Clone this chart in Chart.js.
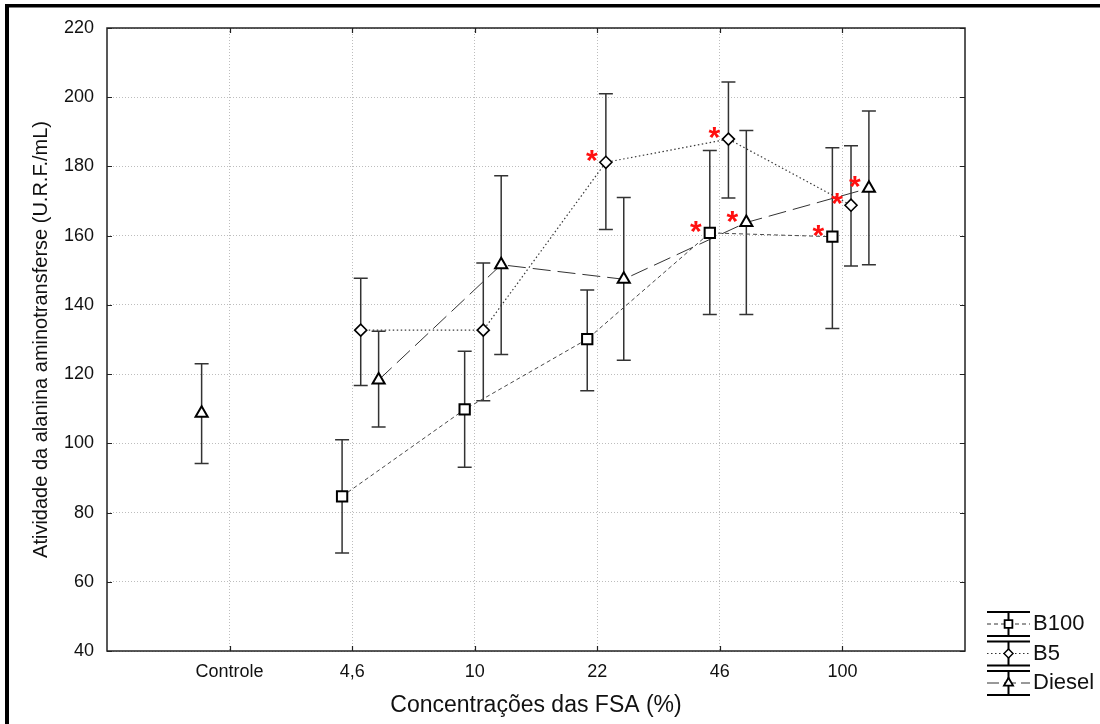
<!DOCTYPE html>
<html>
<head>
<meta charset="utf-8">
<script src="https://cdn.jsdelivr.net/npm/chart.js@4.4.1/dist/chart.umd.min.js"></script>
<style>
  html, body { margin: 0; padding: 0; background: #fff; }
  #wrap { width: 1100px; height: 724px; }
</style>
</head>
<body>
<div id="wrap"><canvas id="chart" width="1100" height="724"></canvas></div>
<script>
// categories on the x axis (Controle is its own group)
const categories = ['Controle', '4,6', '10', '22', '46', '100'];

// control group (one point only)
const controleMean = [108.7];
const controleLow = [94.2];
const controleHigh = [123.0];

// series values for 4,6 / 10 / 22 / 46 / 100
const b100Mean = [84.7, 109.8, 130.1, 160.8, 159.7];
const b100Low = [68.3, 93.1, 115.2, 137.2, 133.2];
const b100High = [101.0, 126.6, 144.3, 184.6, 185.4];

const b5Mean = [132.7, 132.7, 181.2, 187.9, 168.8];
const b5Low = [116.7, 112.3, 161.8, 170.9, 151.2];
const b5High = [147.7, 152.1, 201.0, 204.4, 186.0];

const dieselMean = [118.3, 151.6, 147.4, 163.8, 173.7];
const dieselLow = [104.7, 125.7, 124.0, 137.2, 151.6];
const dieselHigh = [132.4, 177.3, 171.0, 190.4, 196.0];

// significance marks: [series, index into the series arrays]
const asterisks = [['B100', 3], ['B100', 4], ['B5', 2], ['B5', 3], ['B5', 4], ['Diesel', 3], ['Diesel', 4]];

const FONT = "'Liberation Sans', Arial, sans-serif";
const TEXT = '#111';

// horizontal shift of each series inside its category
const dodge = { B100: -0.082, B5: 0.07, Diesel: 0.216, Controle: -0.228 };

function points(means, key, start) {
  return means.map((v, i) => ({ x: i + start + dodge[key], y: v }));
}

const datasets = [
  {
    label: 'B100',
    data: points(b100Mean, 'B100', 2),
    errLow: b100Low, errHigh: b100High,
    showLine: true,
    borderColor: '#4a4a4a',
    borderWidth: 1,
    borderDash: [4, 3],
    pointStyle: 'rect',
    pointRadius: 7.3,
    pointBackgroundColor: '#fff',
    pointBorderColor: '#000',
    pointBorderWidth: 2
  },
  {
    label: 'B5',
    data: points(b5Mean, 'B5', 2),
    errLow: b5Low, errHigh: b5High,
    showLine: true,
    borderColor: '#3a3a3a',
    borderWidth: 1.2,
    borderDash: [1.5, 2.5],
    pointStyle: 'rectRot',
    pointRadius: 6,
    pointBackgroundColor: '#fff',
    pointBorderColor: '#000',
    pointBorderWidth: 1.6
  },
  {
    label: 'Diesel',
    data: points(dieselMean, 'Diesel', 2),
    errLow: dieselLow, errHigh: dieselHigh,
    showLine: true,
    borderColor: '#333',
    borderWidth: 1,
    borderDash: [18, 7],
    pointStyle: 'triangle',
    pointRadius: 7,
    pointBackgroundColor: '#fff',
    pointBorderColor: '#000',
    pointBorderWidth: 2
  },
  {
    label: 'Controle',
    data: points(controleMean, 'Controle', 1),
    errLow: controleLow, errHigh: controleHigh,
    showLine: false,
    pointStyle: 'triangle',
    pointRadius: 7,
    pointBackgroundColor: '#fff',
    pointBorderColor: '#000',
    pointBorderWidth: 2
  }
];

// white background and the thick outer frame
const framePlugin = {
  id: 'frame',
  beforeDraw(chart) {
    const ctx = chart.ctx;
    ctx.save();
    ctx.fillStyle = '#fff';
    ctx.fillRect(0, 0, chart.width, chart.height);
    ctx.fillStyle = '#000';
    ctx.fillRect(5, 4, chart.width - 5, 3.5);
    ctx.fillRect(5, 4, 4, chart.height - 4);
    ctx.restore();
  }
};

// vertical error bars with caps
const errorBarPlugin = {
  id: 'errorBars',
  beforeDatasetsDraw(chart) {
    const { ctx, scales: { x, y } } = chart;
    ctx.save();
    ctx.strokeStyle = '#333';
    ctx.lineWidth = 1.5;
    chart.data.datasets.forEach(ds => {
      ds.data.forEach((p, i) => {
        const px = x.getPixelForValue(p.x);
        const lo = y.getPixelForValue(ds.errLow[i]);
        const hi = y.getPixelForValue(ds.errHigh[i]);
        ctx.beginPath();
        ctx.moveTo(px, lo); ctx.lineTo(px, hi);
        ctx.moveTo(px - 7, lo); ctx.lineTo(px + 7, lo);
        ctx.moveTo(px - 7, hi); ctx.lineTo(px + 7, hi);
        ctx.stroke();
      });
    });
    ctx.restore();
  }
};

// red asterisks next to the significant means
const asteriskPlugin = {
  id: 'asterisks',
  afterDatasetsDraw(chart) {
    const { ctx, scales: { x, y } } = chart;
    ctx.save();
    ctx.fillStyle = '#ff1010';
    ctx.font = 'bold 30px ' + FONT;
    ctx.textAlign = 'center';
    ctx.textBaseline = 'alphabetic';
    asterisks.forEach(([name, i]) => {
      const ds = chart.data.datasets.find(d => d.label === name);
      const p = ds.data[i];
      const px = x.getPixelForValue(p.x) - 14;
      const py = y.getPixelForValue(p.y) - 9;
      ctx.fillText('*', px, py + 17);
    });
    ctx.restore();
  }
};

// plot box with inward tick marks
const boxPlugin = {
  id: 'box',
  afterDraw(chart) {
    const { ctx, chartArea: a, scales: { x, y } } = chart;
    ctx.save();
    ctx.strokeStyle = '#222';
    ctx.lineWidth = 1.5;
    ctx.strokeRect(a.left, a.top, a.right - a.left, a.bottom - a.top);
    ctx.beginPath();
    y.ticks.forEach(t => {
      const py = Math.round(y.getPixelForValue(t.value)) + 0.5;
      ctx.moveTo(a.left, py); ctx.lineTo(a.left + 5, py);
      ctx.moveTo(a.right, py); ctx.lineTo(a.right - 5, py);
    });
    x.ticks.forEach(t => {
      const px = Math.round(x.getPixelForValue(t.value)) + 0.5;
      ctx.moveTo(px, a.bottom); ctx.lineTo(px, a.bottom - 5);
      ctx.moveTo(px, a.top); ctx.lineTo(px, a.top + 5);
    });
    ctx.lineWidth = 1.2;
    ctx.stroke();
    ctx.restore();
  }
};

function drawMarker(ctx, style, r, x, y) {
  if (style === 'rect') {
    const s = r * Math.SQRT1_2;
    ctx.rect(x - s, y - s, 2 * s, 2 * s);
  } else if (style === 'rectRot') {
    ctx.moveTo(x, y - r); ctx.lineTo(x + r, y); ctx.lineTo(x, y + r); ctx.lineTo(x - r, y); ctx.closePath();
  } else {
    ctx.moveTo(x, y - r);
    ctx.lineTo(x + r * 0.866, y + r * 0.5);
    ctx.lineTo(x - r * 0.866, y + r * 0.5);
    ctx.closePath();
  }
}

// legend with error-bar symbols, bottom right
const legendPlugin = {
  id: 'errLegend',
  afterDraw(chart) {
    const ctx = chart.ctx;
    const x0 = 987, x1 = 1030, xm = 1008.5;
    const rows = [624, 653.5, 683];
    ctx.save();
    chart.data.datasets.slice(0, 3).forEach((ds, i) => {
      const cy = rows[i];
      ctx.strokeStyle = '#000';
      ctx.lineWidth = 2;
      ctx.setLineDash([]);
      ctx.beginPath();
      ctx.moveTo(x0, cy - 12); ctx.lineTo(x1, cy - 12);
      ctx.moveTo(x0, cy + 12); ctx.lineTo(x1, cy + 12);
      ctx.moveTo(xm, cy - 12); ctx.lineTo(xm, cy + 12);
      ctx.stroke();
      ctx.lineWidth = 1;
      ctx.strokeStyle = '#333';
      ctx.setLineDash(i === 2 ? [12, 5] : ds.borderDash);
      ctx.beginPath();
      ctx.moveTo(x0, cy); ctx.lineTo(x1, cy);
      ctx.stroke();
      ctx.setLineDash([]);
      ctx.fillStyle = '#fff';
      ctx.strokeStyle = '#000';
      ctx.lineWidth = ds.pointBorderWidth * 0.9;
      ctx.beginPath();
      drawMarker(ctx, ds.pointStyle, ds.pointRadius * 0.75, xm, cy);
      ctx.fill();
      ctx.stroke();
      ctx.fillStyle = TEXT;
      ctx.font = '22px ' + FONT;
      ctx.textAlign = 'left';
      ctx.textBaseline = 'middle';
      ctx.fillText(ds.label, 1033, cy);
    });
    ctx.restore();
  }
};

new Chart(document.getElementById('chart'), {
  type: 'scatter',
  data: { datasets },
  plugins: [framePlugin, errorBarPlugin, asteriskPlugin, boxPlugin, legendPlugin],
  options: {
    responsive: false,
    animation: false,
    devicePixelRatio: 1,
    layout: { padding: { left: 0, top: 28, right: 135, bottom: 0 } },
    plugins: {
      legend: { display: false },
      tooltip: { enabled: false }
    },
    scales: {
      x: {
        type: 'linear',
        min: 0,
        max: 7,
        afterBuildTicks: s => { s.ticks = categories.map((c, i) => ({ value: i + 1 })); },
        afterFit: s => { s.height = 73; },
        ticks: {
          callback: v => categories[v - 1],
          autoSkip: false,
          maxRotation: 0,
          padding: 10,
          color: TEXT,
          font: { family: FONT, size: 18 }
        },
        grid: { color: '#bdbdbd', lineWidth: 1, drawTicks: false },
        border: { display: false, dash: [1, 2] },
        title: {
          display: true,
          text: 'Concentrações das FSA (%)',
          color: TEXT,
          font: { family: FONT, size: 23 },
          padding: 5
        }
      },
      y: {
        min: 40,
        max: 220,
        afterFit: s => { s.width = 107; },
        ticks: {
          stepSize: 20,
          padding: 13,
          color: TEXT,
          font: { family: FONT, size: 18 }
        },
        grid: { color: '#bdbdbd', lineWidth: 1, drawTicks: false },
        border: { display: false, dash: [1, 2] },
        title: {
          display: true,
          text: 'Atividade da alanina aminotransferse (U.R.F./mL)',
          color: TEXT,
          font: { family: FONT, size: 20 },
          padding: 29
        }
      }
    }
  }
});
</script>
</body>
</html>
